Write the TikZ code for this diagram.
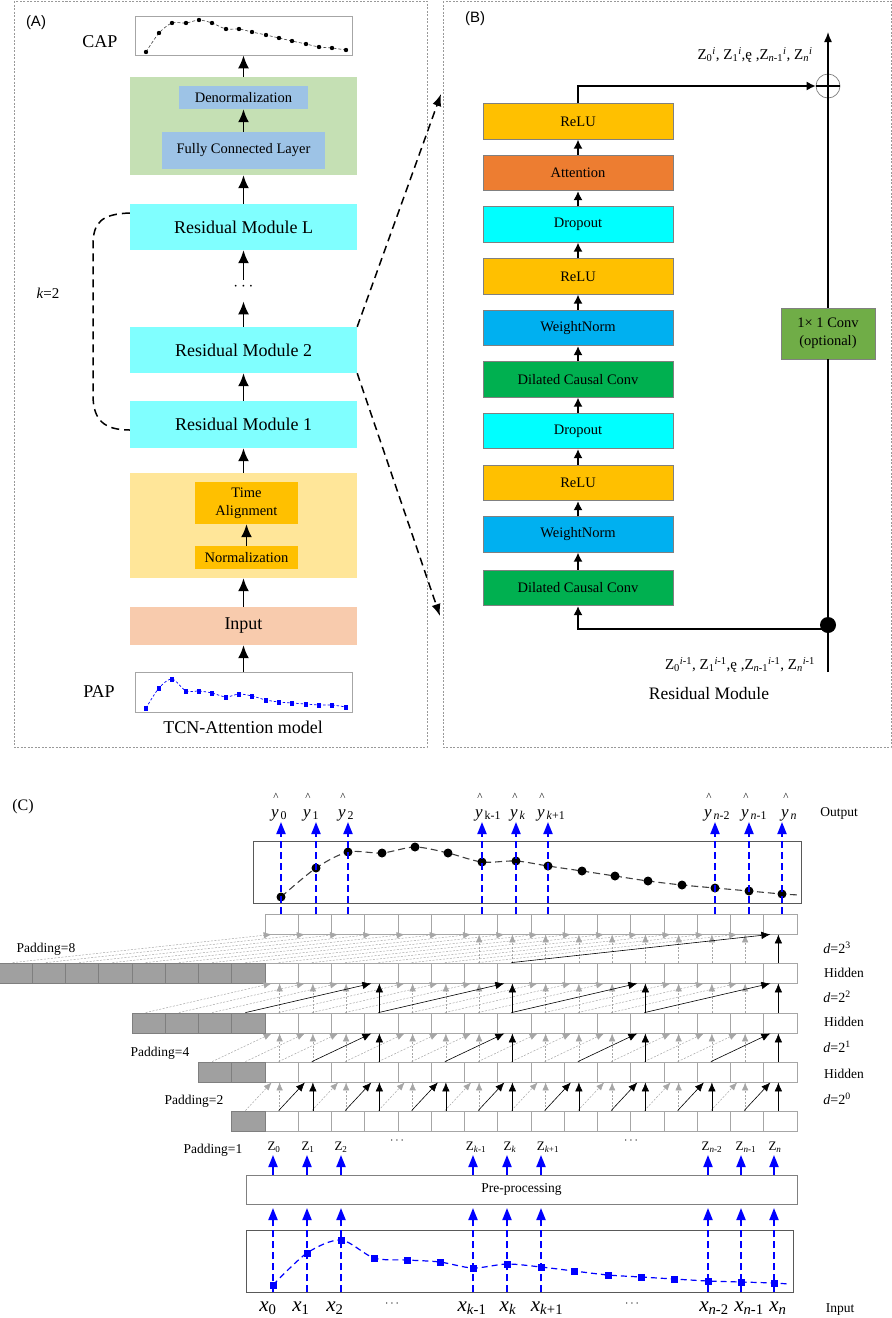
\documentclass[tikz,border=0pt]{standalone}
\usepackage{fontspec}
\setmainfont{Liberation Serif}
\newfontfamily\arialf{Liberation Sans}
\usetikzlibrary{arrows.meta,calc}
\newcommand{\fsz}[1]{\fontsize{#1}{#1}\selectfont}
\newcommand{\zl}[2]{Z\textsubscript{#1}\textsuperscript{#2}}
\definecolor{cyanA}{HTML}{80FFFF}
\definecolor{greenA}{HTML}{C5E0B4}
\definecolor{blueA}{HTML}{9DC3E6}
\definecolor{yellowA}{HTML}{FFE699}
\definecolor{goldA}{HTML}{FFC000}
\definecolor{peachA}{HTML}{F8CBAD}
\definecolor{orangeB}{HTML}{ED7D31}
\definecolor{cyanB}{HTML}{00FFFF}
\definecolor{skyB}{HTML}{00B0F0}
\definecolor{greenB}{HTML}{00B050}
\definecolor{convB}{HTML}{70AD47}
\definecolor{cellgray}{HTML}{A6A6A6}
\definecolor{padgray}{HTML}{A0A0A0}
\definecolor{padedge}{HTML}{7F7F7F}
\definecolor{arrgray}{HTML}{A6A6A6}
\definecolor{pblue}{HTML}{0000FF}
\definecolor{boxedge}{HTML}{595959}
\begin{document}
\begin{tikzpicture}[x=1pt,y=-1pt,
  panel/.style={draw=gray!80, dash pattern=on 2pt off 1.5pt, line width=0.6pt},
  abox/.style={inner sep=0pt, minimum width=227pt},
  aarr/.style={line width=1.8pt, -{Latex[length=13pt,width=11pt]}},
  adash/.style={line width=1.5pt, dash pattern=on 8pt off 5pt},
  bbox/.style={draw=gray, line width=0.8pt, minimum width=190pt, minimum height=35.5pt, inner sep=0pt, font=\fsz{14.5}},
  barr/.style={line width=1.4pt, -{Latex[length=9pt,width=9pt]}},
  cell/.style={draw=cellgray, fill=white, line width=0.8pt, minimum width=33.25pt, minimum height=20pt, inner sep=0pt},
  padcell/.style={cell, fill=padgray, draw=padedge},
  garr/.style={draw=arrgray, line width=0.5pt, dash pattern=on 2pt off 1.5pt, -{Latex[length=8pt,width=6.5pt]}},
  karr/.style={draw=black, line width=0.6pt, -{Latex[length=9pt,width=7.5pt]}},
  bluedash/.style={draw=pblue, line width=1.8pt, dash pattern=on 7pt off 4pt, -{Triangle[length=12pt,width=9pt]}},
  bluearr/.style={draw=pblue, line width=1.8pt, -{Triangle[length=12pt,width=9pt]}},
  lab/.style={inner sep=1pt}
]
\useasboundingbox (0,0) rectangle (892,1318);

%================ Panel A =================
\draw[panel] (14,1) rectangle (427,747);
\node[lab, font=\arialf\fsz{15}] (labA) at (36,23) {(A)};

\node[draw=gray!70, line width=0.7pt, minimum width=217pt, minimum height=39pt, inner sep=0pt] (cap) at (243.5,35.5) {};
\node[lab, font=\fsz{18}] (capl) at (100,42) {CAP};
\draw[dash pattern=on 3pt off 2pt, line width=0.6pt, gray!50!black] plot[smooth] coordinates {(146,52) (159,33) (172,23) (186,23) (199,20) (212,23) (226,29) (239,29) (252,32) (266,35) (279,38) (292,41) (306,44) (319,47) (332,48) (346,50)};
\foreach \px/\py in {146/52,159/33,172/23,186/23,199/20,212/23,226/29,239/29,252/32,266/35,279/38,292/41,306/44,319/47,332/48,346/50}
  \fill (\px,\py) circle (2.2pt);

\node[abox, fill=greenA, minimum height=98pt] (green) at (243.5,126) {};
\node[inner sep=0pt, fill=blueA, minimum width=129pt, minimum height=23pt, font=\fsz{14.5}] (denorm) at (243.5,97.5) {Denormalization};
\node[inner sep=0pt, fill=blueA, minimum width=163pt, minimum height=37pt, font=\fsz{14.5}] (fcl) at (243.5,150.5) {Fully Connected Layer};
\node[abox, fill=cyanA, minimum height=46pt, font=\fsz{18}] (resL) at (243.5,227) {Residual Module L};
\node[font=\fsz{18}] (adots) at (243.5,287) {$\cdots$};
\node[abox, fill=cyanA, minimum height=46pt, font=\fsz{18}] (res2) at (243.5,350) {Residual Module 2};
\node[abox, fill=cyanA, minimum height=47pt, font=\fsz{18}] (res1) at (243.5,424.5) {Residual Module 1};
\node[abox, fill=yellowA, minimum height=105pt] (yellow) at (243.5,525.5) {};
\node[inner sep=0pt, fill=goldA, minimum width=103pt, minimum height=42pt, align=center, font=\fontsize{14.5}{18}\selectfont] (ta) at (246.5,503) {Time\\Alignment};
\node[inner sep=0pt, fill=goldA, minimum width=103pt, minimum height=23pt, font=\fsz{14.5}] (norm) at (246.5,557.5) {Normalization};
\node[abox, fill=peachA, minimum height=38pt, font=\fsz{18}] (inA) at (243.5,626) {Input};
\node[draw=gray!70, line width=0.7pt, minimum width=217pt, minimum height=40pt, inner sep=0pt] (pap) at (243.5,692) {};
\node[lab, font=\fsz{18}] (papl) at (99,692) {PAP};
\node[lab, font=\fsz{18}] (tcn) at (243,727) {TCN-Attention model};
\draw[pblue, dash pattern=on 2.5pt off 2pt, line width=0.7pt] plot[smooth] coordinates {(146,708) (159,688) (172,679) (186,691) (199,691) (212,693) (226,697) (239,694) (252,696) (266,700) (279,702) (292,703) (306,704) (319,705) (332,705) (346,707)};
\foreach \px/\py in {146/708,159/688,172/679,186/691,199/691,212/693,226/697,239/694,252/696,266/700,279/702,292/703,306/704,319/705,332/705,346/707}
  \fill[pblue] (\px-2,\py-2.5) rectangle (\px+2,\py+2.5);

\draw[aarr] (green.north) -- (cap.south);
\draw[aarr] (fcl.north) -- (denorm.south);
\draw[aarr] (resL.north) -- (green.south);
\draw[aarr] (adots.north) -- (resL.south);
\draw[aarr] (res2.north) -- ([yshift=-7pt]adots.south);
\draw[aarr] (res1.north) -- (res2.south);
\draw[aarr] (yellow.north) -- (res1.south);
\draw[aarr] (norm.north) -- (ta.south);
\draw[aarr] (inA.north) -- (yellow.south);
\draw[aarr] (pap.north) -- (inA.south);

\draw[adash] ([yshift=14pt]resL.west) .. controls (102,214) and (93,222) .. (93,245) -- (93,395) .. controls (93,420) and (104,430) .. ([yshift=-5.5pt]res1.west);
\node[lab, font=\fsz{15}] (kl) at (48,293) {\textit{k}=2};

\coordinate (btop) at (441,94);
\coordinate (bbot) at (440,616);
\draw[adash, -{Latex[length=12pt,width=9pt]}] (res2.north east) -- (btop);
\draw[adash, -{Latex[length=12pt,width=9pt]}] (res2.south east) -- (bbot);

%================ Panel B =================
\draw[panel] (443,1) rectangle (891,747);
\node[lab, font=\arialf\fsz{15}] (labB) at (475,19) {(B)};
\node[bbox, fill=goldA] (b1) at (578,121.5) {ReLU};
\node[bbox, fill=orangeB] (b2) at (578,173) {Attention};
\node[bbox, fill=cyanB] (b3) at (578,224.5) {Dropout};
\node[bbox, fill=goldA] (b4) at (578,276.5) {ReLU};
\node[bbox, fill=skyB] (b5) at (578,328) {WeightNorm};
\node[bbox, fill=greenB] (b6) at (578,379.5) {Dilated Causal Conv};
\node[bbox, fill=cyanB] (b7) at (578,431) {Dropout};
\node[bbox, fill=goldA] (b8) at (578,483) {ReLU};
\node[bbox, fill=skyB] (b9) at (578,534.5) {WeightNorm};
\node[bbox, fill=greenB] (b10) at (578,588) {Dilated Causal Conv};
\foreach \ua/\ub in {10/9,9/8,8/7,7/6,6/5,5/4,4/3,3/2,2/1}
  \draw[barr] (b\ua.north) -- (b\ub.south);

\node[draw=gray, line width=0.8pt, fill=convB, minimum width=94pt, minimum height=51pt, inner sep=0pt, align=center, font=\fontsize{14.5}{18}\selectfont] (conv) at (828,333.5) {1× 1 Conv\\(optional)};
\node[circle, draw=gray, line width=0.7pt, minimum size=24pt, inner sep=0pt] (plus) at (828,86) {};
\draw[line width=1.2pt] (plus.west) -- (plus.east);
\coordinate (vbot) at (828,672);
\coordinate (vtop) at (828,32);
\node[circle, fill=black, minimum size=16pt, inner sep=0pt] (junc) at (828,625) {};
\draw[line width=1.4pt] (vbot) -- (conv.south);
\draw[line width=1.4pt, -{Latex[length=10pt,width=8pt]}] (conv.north) -- (vtop);
\draw[barr] ([yshift=-4pt]junc.center) -| (b10.south);
\draw[barr] (b1.north) |- (plus.west);

\node[lab, font=\fsz{15}] (ztop) at (755,55) {\zl{0}{\textit{i}}, \zl{1}{\textit{i}},ę ,\zl{\textit{n}-1}{\textit{i}}, \zl{\textit{n}}{\textit{i}}};
\node[lab, font=\fsz{15}] (zbot) at (740,665) {\zl{0}{\textit{i}-1}, \zl{1}{\textit{i}-1},ę ,\zl{\textit{n}-1}{\textit{i}-1}, \zl{\textit{n}}{\textit{i}-1}};
\node[lab, font=\fsz{17.5}] (rmB) at (709,694) {Residual Module};

%================ Panel C =================
\node[lab, font=\fsz{16}] (labC) at (23,807) {(C)};

% output plot
\node[draw=boxedge, line width=0.9pt, minimum width=548pt, minimum height=62pt, inner sep=0pt] (outbox) at (527,872) {};
\draw[dash pattern=on 7pt off 4pt, line width=1.1pt, black!75] plot[smooth] coordinates {(281,897) (316,868) (348,852) (382,853) (415,847) (448,853) (482,862) (516,861) (548,866) (582,871) (615,876) (648,881) (682,885) (715,888) (749,891) (782,894) (800,895)};
\foreach \px/\py in {281/897,316/868,348/852,382/853,415/847,448/853,482/862,516/861,548/866,582/871,615/876,648/881,682/885,715/888,749/891,782/894}
  \fill (\px,\py) circle (4.5pt);

% cell rows
\foreach \rr/\yy/\npad in {0/1121/1, 1/1072/2, 2/1023/4, 3/973/8, 4/924/0} {
  \foreach \j in {0,...,15} {
    \pgfmathtruncatemacro{\kk}{\j+8}
    \node[cell] (r\rr c\kk) at ({265+33.25*(\j+0.5)},\yy) {};
  }
  \ifnum\npad>0
    \foreach \j in {1,...,\npad} {
      \pgfmathtruncatemacro{\kk}{8-\j}
      \node[padcell] (r\rr c\kk) at ({265-33.25*(\j-0.5)},\yy) {};
    }
  \fi
}

% gray arrows
\foreach \L/\dd/\nl in {0/1/1,1/2/2,2/4/3,3/8/4} {
  \foreach \j in {0,...,15} {
    \pgfmathtruncatemacro{\tg}{\j+8}
    \pgfmathtruncatemacro{\sr}{\j+8-\dd}
    \pgfmathtruncatemacro{\blk}{or(and(equal(\L,0),equal(mod(\j,2),1)),or(and(equal(\L,1),equal(mod(\j,4),3)),or(and(equal(\L,2),equal(mod(\j,4),3)),and(equal(\L,3),equal(\j,15)))))}
    \ifnum\blk=0
      \draw[garr] ([xshift=-3pt]r\L c\sr.north) -- ([xshift=-10pt]r\nl c\tg.south);
      \pgfmathtruncatemacro{\skipv}{and(equal(\L,3),\j<6)}
      \ifnum\skipv=0
        \draw[garr] ([xshift=-2pt]r\L c\tg.north) -- ([xshift=-2pt]r\nl c\tg.south);
      \fi
    \fi
  }
}
% black arrows
\foreach \L/\dd/\nl in {0/1/1,1/2/2,2/4/3,3/8/4} {
  \foreach \j in {0,...,15} {
    \pgfmathtruncatemacro{\tg}{\j+8}
    \pgfmathtruncatemacro{\sr}{\j+8-\dd}
    \pgfmathtruncatemacro{\blk}{or(and(equal(\L,0),equal(mod(\j,2),1)),or(and(equal(\L,1),equal(mod(\j,4),3)),or(and(equal(\L,2),equal(mod(\j,4),3)),and(equal(\L,3),equal(\j,15)))))}
    \ifnum\blk=1
      \draw[karr] ([xshift=-3pt]r\L c\sr.north) -- ([xshift=-10pt]r\nl c\tg.south);
      \draw[karr] ([xshift=-2pt]r\L c\tg.north) -- ([xshift=-2pt]r\nl c\tg.south);
    \fi
  }
}

% blue output arrows
\foreach \i/\xx in {0/281,1/316,2/348,3/482,4/516,5/548,6/715,7/749,8/782} {
  \coordinate (ot\i) at (\xx,822);
  \draw[bluedash] (ot\i |- r4c8.north) -- (ot\i);
}
% y-hat labels
\foreach \i/\xx/\sb in {0/276/0,1/308/1,2/343/2,3/480/k-1,4/515/\textit{k},5/542/\textit{k}+1,6/709/\textit{n}-2,7/746/\textit{n}-1,8/786/\textit{n}} {
  \node[inner sep=0pt, font=\fsz{11}] (yh\i) at (\xx,797) {\textasciicircum};
  \node[inner sep=0pt, anchor=base west, font=\fsz{17}] (yl\i) at (\xx-5,817) {\textit{y}\textsubscript{\,\sb}};
}
\node[lab, font=\fsz{13.5}] (outl) at (839,813) {Output};

% right side labels
\node[lab, font=\fsz{14}] (d3) at (837,948) {\textit{d}=2\textsuperscript{3}};
\node[lab, font=\fsz{13.5}] (h3) at (844,973) {Hidden};
\node[lab, font=\fsz{14}] (d2) at (837,997) {\textit{d}=2\textsuperscript{2}};
\node[lab, font=\fsz{13.5}] (h2) at (844,1022) {Hidden};
\node[lab, font=\fsz{14}] (d1) at (837,1047) {\textit{d}=2\textsuperscript{1}};
\node[lab, font=\fsz{13.5}] (h1) at (844,1074) {Hidden};
\node[lab, font=\fsz{14}] (d0) at (837,1099) {\textit{d}=2\textsuperscript{0}};
\node[lab, font=\fsz{13.5}] (inl) at (840,1310) {Input};

% padding labels
\node[lab, font=\fsz{13.5}] (p8) at (46,949) {Padding=8};
\node[lab, font=\fsz{13.5}] (p4) at (160,1053) {Padding=4};
\node[lab, font=\fsz{13.5}] (p2) at (194,1101) {Padding=2};
\node[lab, font=\fsz{13.5}] (p1) at (213,1150) {Padding=1};

% Z labels
\foreach \i/\xx/\sb in {0/274/0,1/308/1,2/341/2,3/476/\textit{k}-1,4/510/\textit{k},5/548/\textit{k}+1,6/712/\textit{n}-2,7/746/\textit{n}-1,8/775/\textit{n}}
  \node[lab, font=\fsz{13}] (z\i) at (\xx,1147) {Z\textsubscript{\sb}};
\node[lab, font=\fsz{13}] (zd1) at (397,1141) {$\cdots$};
\node[lab, font=\fsz{13}] (zd2) at (631,1141) {$\cdots$};

% pre-processing
\node[draw=gray, line width=0.9pt, minimum width=551pt, minimum height=29pt, inner sep=0pt, font=\fsz{13.5}] (pre) at (521.5,1189.5) {Pre-processing};
% input plot
\node[draw=boxedge, line width=0.9pt, minimum width=547pt, minimum height=62pt, inner sep=0pt] (inbox) at (519.5,1261) {};
\draw[pblue, dash pattern=on 6pt off 4pt, line width=1.2pt] plot[smooth] coordinates {(273,1285) (307,1253) (341,1240) (374,1258) (407,1260) (440,1262) (473,1268) (507,1264) (541,1267) (574,1271) (608,1275) (641,1277) (674,1279) (708,1281) (741,1282) (774,1283) (788,1284)};
\foreach \px/\py in {273/1285,307/1253,341/1240,374/1258,407/1260,440/1262,473/1268,507/1264,541/1267,574/1271,608/1275,641/1277,674/1279,708/1281,741/1282,774/1283}
  \fill[pblue] (\px-3.5,\py-3.5) rectangle (\px+3.5,\py+3.5);

\foreach \i/\xx in {0/273,1/307,2/341,3/473,4/507,5/541,6/708,7/741,8/774} {
  \coordinate (it\i) at (\xx,1208);
  \coordinate (zt\i) at (\xx,1155);
  \draw[bluedash] (it\i |- inbox.south) -- (it\i);
  \draw[bluearr] (zt\i |- pre.north) -- (zt\i);
}

% x labels
\foreach \i/\xx/\sb in {0/268/0,1/301/1,2/335/2,3/472/\textit{k}-1,4/508/\textit{k},5/547/\textit{k}+1,6/714/\textit{n}-2,7/749/\textit{n}-1,8/778/\textit{n}}
  \node[lab, font=\fsz{21}] (x\i) at (\xx,1308) {\textit{x}\textsubscript{\sb}};
\node[lab, font=\fsz{13}] (xd1) at (392,1304) {$\cdots$};
\node[lab, font=\fsz{13}] (xd2) at (632,1304) {$\cdots$};
\end{tikzpicture}
\end{document}
